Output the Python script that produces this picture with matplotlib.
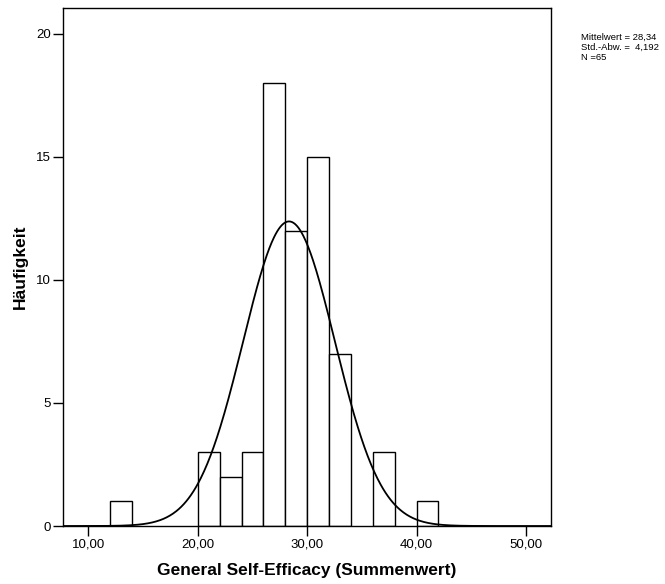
import numpy as np
import matplotlib
matplotlib.use("Agg")
import matplotlib.pyplot as plt

plt.rcParams['font.family'] = ['Liberation Sans', 'DejaVu Sans']

bin_left = [12, 20, 22, 24, 26, 28, 30, 32, 36, 40]
counts = [1, 3, 2, 3, 18, 12, 15, 7, 3, 1]
bin_width = 2
mean, sd, n = 28.34, 4.192, 65
x_ticks = [10, 20, 30, 40, 50]
x_tick_labels = ["10,00", "20,00", "30,00", "40,00", "50,00"]
y_ticks = [0, 5, 10, 15, 20]

fig = plt.figure(figsize=(6.65, 5.84), dpi=100)
ax = fig.add_axes([0.0952, 0.0993, 0.733, 0.8870])

ax.bar(bin_left, counts, width=bin_width, align='edge', facecolor='white',
       edgecolor='black', linewidth=1.0, zorder=2)

xs = np.linspace(7.71, 52.26, 600)
ys = n * bin_width / (sd * np.sqrt(2 * np.pi)) * np.exp(-0.5 * ((xs - mean) / sd) ** 2)
ax.plot(xs, ys, color='black', linewidth=1.3, zorder=3)

ax.set_xlim(7.71, 52.26)
ax.set_ylim(0, 21.04)
ax.set_xticks(x_ticks)
ax.set_xticklabels(x_tick_labels)
ax.set_yticks(y_ticks)
ax.tick_params(axis='both', direction='out', length=7, width=1.0, labelsize=9.5, pad=2)
for s in ax.spines.values():
    s.set_linewidth(1.0)

ax.set_xlabel("General Self-Efficacy (Summenwert)", fontsize=12.5, fontweight='bold', labelpad=9)
ax.set_ylabel("Häufigkeit", fontsize=12.5, fontweight='bold', labelpad=6)

fig.text(581 / 665, 1 - 33 / 584, "Mittelwert = 28,34\nStd.-Abw. =  4,192\nN =65",
         fontsize=6.8, va='top', ha='left', linespacing=1.15)

fig.savefig("out.png", dpi=100)
